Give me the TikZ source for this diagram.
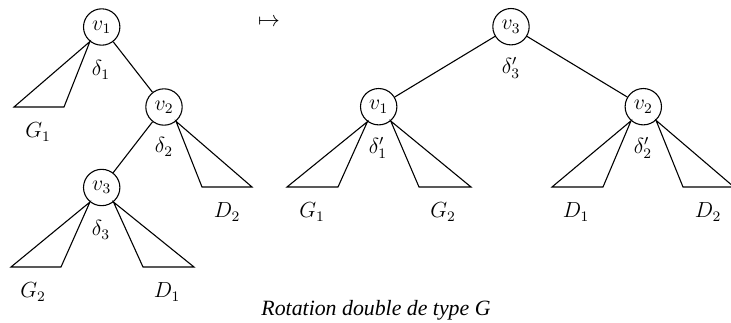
\documentclass[tikz,border=0pt]{standalone}
\usepackage{amsmath}
\usepackage{fontspec}
\newfontfamily\capfont{Liberation Serif}
\usepackage{tikz}
\usetikzlibrary{calc}

\begin{document}
\begin{tikzpicture}[x=0.55pt,y=-0.55pt,semithick,
    font=\fontsize{11.5}{14}\selectfont,
    vertex/.style={draw,circle,minimum size=20pt,inner sep=1pt}]
    \useasboundingbox (0,0) rectangle (731,322);

    % arbre de depart
    \node[vertex] (v1) at (101.7,27) {$v_1$};
    \node[vertex] (v2) at (164,107) {$v_2$};
    \node[vertex] (v3) at (101.7,187.5) {$v_3$};
    \draw (v1) -- (v2);
    \draw (v2) -- (v3);
    \node (d1) at (101,70) {$\delta_1$};
    \node (d2) at (164,147) {$\delta_2$};
    \node (d3) at (101,230) {$\delta_3$};

    \draw (v1.-129) -- (14,107) -- (64,107) -- cycle;
    \node (g1) at (38,132) {$G_1$};
    \draw (v2.-50) -- (202,187) -- (252,187) -- cycle;
    \node (dd2) at (227,212) {$D_2$};
    \draw (v3.-129) -- (11,267) -- (61,267) -- cycle;
    \node (g2) at (33,292) {$G_2$};
    \draw (v3.-51) -- (143,267) -- (194,267) -- cycle;
    \node (dd1) at (167,292) {$D_1$};

    \node (map) at (269,22) {$\mapsto$};

    % arbre apres rotation
    \node[vertex] (r3) at (511,26.7) {$v_3$};
    \node[vertex] (r1) at (378.7,106.7) {$v_1$};
    \node[vertex] (r2) at (643.3,106.7) {$v_2$};
    \draw (r3) -- (r1);
    \draw (r3) -- (r2);
    \node (e3) at (511,68) {$\delta'_3$};
    \node (e1) at (378,148) {$\delta'_1$};
    \node (e2) at (643,148) {$\delta'_2$};

    \draw (r1.-127) -- (287,187) -- (338,187) -- cycle;
    \node (h1) at (312,212) {$G_1$};
    \draw (r1.-50) -- (419,187) -- (471,187) -- cycle;
    \node (h2) at (443,212) {$G_2$};
    \draw (r2.-131) -- (552,187) -- (603,187) -- cycle;
    \node (ee1) at (576,212) {$D_1$};
    \draw (r2.-47) -- (683,187) -- (734,187) -- cycle;
    \node (ee2) at (708,212) {$D_2$};

    \node (cap) at (376,310) {\capfont\fontsize{12}{14}\selectfont\itshape Rotation double de type G};
\end{tikzpicture}
\end{document}
